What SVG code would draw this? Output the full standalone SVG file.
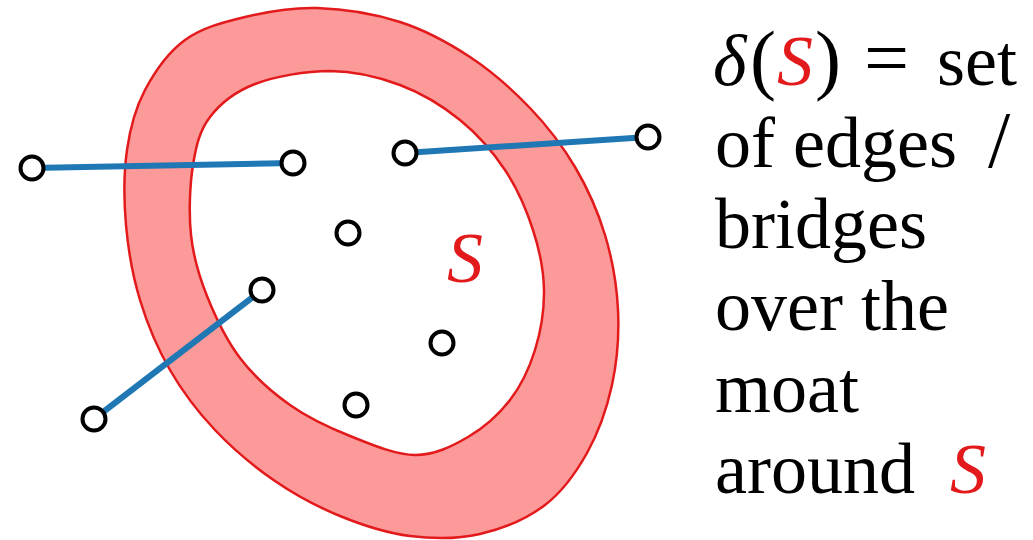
<svg xmlns="http://www.w3.org/2000/svg" width="1033" height="540" viewBox="0 0 1033 540">
<style>
.moat{fill:#fb9a99;stroke:#e31a1c;stroke-width:2.5;fill-rule:evenodd}
.edge{stroke:#1f78b4;stroke-width:6;fill:none}
.node{fill:#fff;stroke:#000;stroke-width:4}
.t{font-family:"Liberation Serif","DejaVu Serif",serif;font-size:72px;fill:#000}
.red{fill:#e31a1c;font-style:italic}
</style>
<rect width="1033" height="540" fill="#fff"/>
<g id="moat">
<path class="moat" d="M317,8 C342.8,8.8 374.5,13.8 400,22 C425.5,30.2 448.3,42.7 470,57 C491.7,71.3 512.5,89.7 530,108 C547.5,126.3 562.5,145.8 575,167 C587.5,188.2 597.8,211.2 605,235 C612.2,258.8 616.8,285 618,310 C619.2,335 617.2,361.2 612,385 C606.8,408.8 598.2,433 587,453 C575.8,473 562.8,491.5 545,505 C527.2,518.5 502.5,528.8 480,534 C457.5,539.2 433.3,539 410,536 C386.7,533 362.5,525.2 340,516 C317.5,506.8 295.8,495.3 275,481 C254.2,466.7 232.5,448.5 215,430 C197.5,411.5 182.5,391.7 170,370 C157.5,348.3 147.3,324.2 140,300 C132.7,275.8 128.2,250 126,225 C123.8,200 123.8,172.5 127,150 C130.2,127.5 135.3,108.3 145,90 C154.7,71.7 168.3,52.2 185,40 C201.7,27.8 223,22.3 245,17 C267,11.7 291.2,7.2 317,8 Z M330,71 C354.2,71.2 378.3,76.8 400,85 C421.7,93.2 442.5,105.8 460,120 C477.5,134.2 492.8,151.7 505,170 C517.2,188.3 526.5,210 533,230 C539.5,250 543.7,270 544,290 C544.3,310 540.7,331.7 535,350 C529.3,368.3 521.2,385.5 510,400 C498.8,414.5 483.8,427.8 468,437 C452.2,446.2 434.7,455.2 415,455 C395.3,454.8 370.8,444.3 350,436 C329.2,427.7 308.3,418 290,405 C271.7,392 253.8,376.2 240,358 C226.2,339.8 215.2,316.5 207,296 C198.8,275.5 193.3,256.8 191,235 C188.7,213.2 189.8,184.7 193,165 C196.2,145.3 199.7,130.5 210,117 C220.3,103.5 235,91.7 255,84 C275,76.3 305.8,71 330,71 Z"/>
<text class="t red" x="465" y="282" text-anchor="middle" font-size="76">S</text>
</g>
<g id="connectors">
<line class="edge" x1="32" y1="168" x2="293" y2="163"/>
<line class="edge" x1="405" y1="153" x2="648" y2="137"/>
<line class="edge" x1="262" y1="290" x2="94" y2="419"/>
</g>
<g id="n1"><circle class="node" cx="32" cy="168" r="11.5"/></g>
<g id="n2"><circle class="node" cx="293" cy="163" r="11.5"/></g>
<g id="n3"><circle class="node" cx="405" cy="153" r="11.5"/></g>
<g id="n4"><circle class="node" cx="648" cy="137" r="11.5"/></g>
<g id="n5"><circle class="node" cx="348" cy="233" r="11.5"/></g>
<g id="n6"><circle class="node" cx="262" cy="290" r="11.5"/></g>
<g id="n7"><circle class="node" cx="94" cy="419" r="11.5"/></g>
<g id="n8"><circle class="node" cx="442" cy="343" r="11.5"/></g>
<g id="n9"><circle class="node" cx="356" cy="405" r="11.5"/></g>
<g id="caption">
<text class="t" y="85"><tspan x="713" font-style="italic">δ</tspan><tspan x="750" font-size="78">(</tspan><tspan x="777" class="red">S</tspan><tspan x="815" font-size="78">)</tspan><tspan x="864" font-size="80">=</tspan><tspan x="937">set</tspan></text>
<text class="t" y="167"><tspan x="715">of edges</tspan><tspan x="988" font-size="80">/</tspan></text>
<text class="t" x="715" y="248">bridges</text>
<text class="t" x="715" y="330">over the</text>
<text class="t" x="715" y="412">moat</text>
<text class="t" y="493"><tspan x="715">around</tspan><tspan x="950" class="red">S</tspan></text>
</g>
</svg>
